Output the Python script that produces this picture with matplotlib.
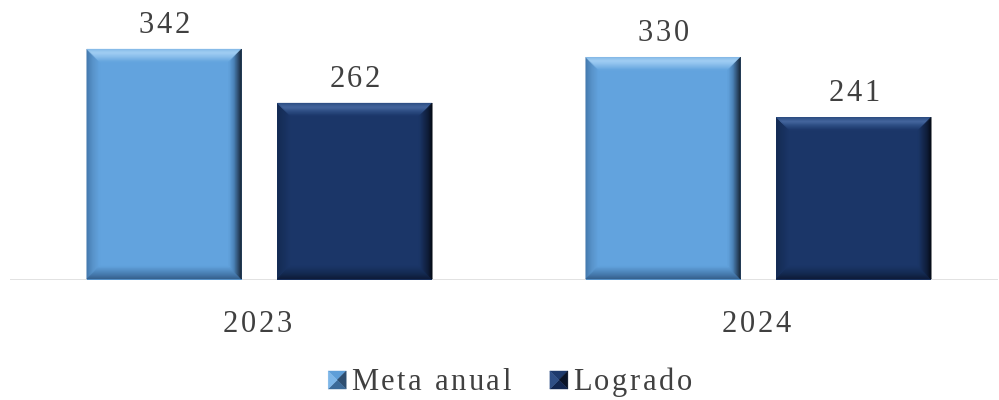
import matplotlib
matplotlib.use("Agg")
import matplotlib.pyplot as plt
import numpy as np
from matplotlib.patches import Polygon
from matplotlib.transforms import IdentityTransform
from matplotlib.colors import to_rgb
from matplotlib.font_manager import FontProperties, findfont, get_font

# ---- data ----
categories = ["2023", "2024"]
series_names = ["Meta anual", "Logrado"]
meta_anual = [342, 330]
logrado = [262, 241]

# ---- style ----
W, H, DPI = 9.99, 4.0, 100
TEXT_COLOR = "#404040"
FONT = "Liberation Serif"
FS = 22
LETTER_SP = 2.6

fig = plt.figure(figsize=(W, H), dpi=DPI)
fig.patch.set_facecolor("white")
ax = fig.add_axes([10 / 999, 120 / 400, 988 / 999, 270 / 400])
ax.set_xlim(-0.5, 1.48)
ax.set_ylim(0, 400)
for s in ["top", "right", "left", "bottom"]:
    ax.spines[s].set_visible(False)
ax.set_xticks([])
ax.set_yticks([])
ax.axhline(0, color="#D9D9D9", lw=1.8, zorder=1)

x = np.arange(len(categories))
bw = 0.31
off = 0.191

styles = [
    dict(base="#62A3DE",
         top=[(0, "#86BAE8"), (0.3, "#A3CFF4"), (0.6, "#8CC0EC"), (1, "#62A3DE")],
         right=[(0, "#101B29"), (0.25, "#2B4866"), (0.6, "#4A80B5"), (1, "#62A3DE")],
         left=[(0, "#4277AB"), (0.5, "#5893CA"), (1, "#62A3DE")],
         bottom=[(0, "#345E8A"), (0.5, "#4A80B5"), (1, "#62A3DE")],
         leg=["#5E9ED8", "#2E4E70", "#3C6A98", "#7DB6E8"]),
    dict(base="#1B3668",
         top=[(0, "#2E4E84"), (0.35, "#46679F"), (0.7, "#2A4A80"), (1, "#1B3668")],
         right=[(0, "#04080F"), (0.35, "#0E1C38"), (1, "#1B3668")],
         left=[(0, "#132A52"), (1, "#1B3668")],
         bottom=[(0, "#0D1B36"), (0.5, "#142A52"), (1, "#1B3668")],
         leg=["#1E3A6C", "#0A1428", "#122650", "#2F4F86"]),
]


def grad(stops, t):
    ts = [s[0] for s in stops]
    cs = np.array([to_rgb(s[1]) for s in stops])
    return tuple(np.interp(t, ts, cs[:, i]) for i in range(3))


def bevel(L, B, R, T, st, w=13, n=14):
    tr = IdentityTransform()
    for k in range(n):
        d0 = w * k / n
        d1 = w * (k + 1) / n
        t = (k + 0.5) / n
        polys = {
            "top": [(L + d0, T - d0), (R - d0, T - d0), (R - d1, T - d1), (L + d1, T - d1)],
            "right": [(R - d0, T - d0), (R - d0, B + d0), (R - d1, B + d1), (R - d1, T - d1)],
            "bottom": [(L + d0, B + d0), (R - d0, B + d0), (R - d1, B + d1), (L + d1, B + d1)],
            "left": [(L + d0, T - d0), (L + d0, B + d0), (L + d1, B + d1), (L + d1, T - d1)],
        }
        for side in ["left", "bottom", "top", "right"]:
            c = grad(st[side], t)
            p = Polygon(polys[side], closed=True, transform=tr, facecolor=c,
                        edgecolor=c, lw=0.4, zorder=3)
            fig.add_artist(p)


# glyph advance helper for letter-spaced text
fp = FontProperties(family=FONT, size=FS)
font = get_font(findfont(fp))


def advances(s, size):
    font.set_size(size, DPI)
    out = []
    for ch in s:
        g = font.load_char(ord(ch))
        out.append(g.linearHoriAdvance / 65536)
    return out


def spaced_width(s, size=FS, sp=LETTER_SP):
    a = advances(s, size)
    return sum(a) + sp * (len(s) - 1)


def spaced_text(xc, y, s, size=FS, sp=LETTER_SP, ha="center", va="baseline"):
    a = advances(s, size)
    total = sum(a) + sp * (len(s) - 1)
    xs = xc - total / 2 if ha == "center" else xc
    for ch, adv in zip(s, a):
        fig.text(xs, y, ch, transform=IdentityTransform(), fontsize=size,
                 family=FONT, color=TEXT_COLOR, ha="left", va=va)
        xs += adv + sp
    return total


all_series = [meta_anual, logrado]
for si, vals in enumerate(all_series):
    xpos = x + (-off if si == 0 else off)
    ax.bar(xpos, vals, bw, color=styles[si]["base"], zorder=2, lw=0)
    for xb, v in zip(xpos, vals):
        (L, B) = ax.transData.transform((xb - bw / 2, 0))
        (R, T) = ax.transData.transform((xb + bw / 2, v))
        bevel(L, B + 1, R, T, styles[si])
        spaced_text((L + R) / 2, T + 16, str(v))

# category labels
for xi, c in zip(x, categories):
    px, py = ax.transData.transform((xi, 0))
    spaced_text(px - 2, 400 - 332, c)

# legend
sq = 18
gap_sq = 5
gap_items = 39
items_w = [sq + gap_sq + spaced_width(n) for n in series_names]
total = sum(items_w) + gap_items
xs = 510 - total / 2
ly = 400 - 390  # baseline
sq_b = 400 - 389
for si, name in enumerate(series_names):
    st = styles[si]
    L, B, R, T = xs, sq_b, xs + sq, sq_b + sq
    cx, cy = (L + R) / 2, (B + T) / 2
    top_c, right_c, bottom_c, left_c = st["leg"]
    tris = [
        ([(L, T), (R, T), (cx, cy)], top_c),
        ([(R, T), (R, B), (cx, cy)], right_c),
        ([(L, B), (R, B), (cx, cy)], bottom_c),
        ([(L, T), (L, B), (cx, cy)], left_c),
    ]
    for pts, c in tris:
        fig.add_artist(Polygon(pts, closed=True, transform=IdentityTransform(),
                               facecolor=c, edgecolor=c, lw=0.3))
    spaced_text(xs + sq + gap_sq, ly, name, ha="left")
    xs += items_w[si] + gap_items

fig.savefig("out.png", dpi=DPI, facecolor="white")
